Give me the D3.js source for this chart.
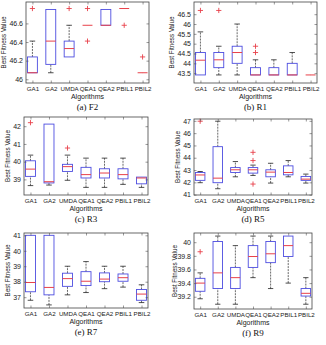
<!DOCTYPE html>
<html>
<head>
<meta charset="utf-8">
<script src="https://cdn.jsdelivr.net/npm/d3@7"></script>
<style>
body { margin: 0; background: #fff; }
svg { display: block; }
</style>
</head>
<body>
<svg id="chart" width="326" height="345"></svg>
<script>
var algorithms = ["GA1", "GA2", "UMDA", "QEA1", "QEA2", "PBIL1", "PBIL2"];

// one row per algorithm: [lower whisker, q1, median, q3, upper whisker]
var f2Stats = [
    [46.07, 46.07, 46.07, 46.24, 46.41],
    [46.07, 46.16, 46.41, 46.75, 46.75],
    [46.24, 46.24, 46.33, 46.41, 46.58],
    [46.58, 46.58, 46.58, 46.58, 46.58],
    [46.58, 46.58, 46.58, 46.75, 46.75],
    [46.76, 46.76, 46.76, 46.76, 46.76],
    [46.07, 46.07, 46.07, 46.07, 46.07]
];
var f2Outliers = [[46.76], [], [46.76], [46.76, 46.41], [], [46.58], [46.24]];
var f2Ticks = [46, 46.2, 46.4, 46.6];

var r1Stats = [
    [43.41, 43.41, 44.16, 44.55, 45.6],
    [43.41, 43.78, 44.18, 44.55, 44.87],
    [43.41, 44.0, 44.55, 44.87, 46.0],
    [43.41, 43.41, 43.41, 43.78, 44.18],
    [43.41, 43.41, 43.41, 43.78, 44.18],
    [43.41, 43.41, 43.41, 44.0, 44.55],
    [43.41, 43.41, 43.41, 43.41, 43.41]
];
var r1Outliers = [[46.69], [46.69], [], [44.55, 44.87], [], [], []];
var r1Ticks = [43.5, 44, 44.5, 45, 45.5, 46, 46.5];

var r3Stats = [
    [38.65, 39.17, 39.58, 40.05, 40.37],
    [38.68, 38.8, 38.87, 42.12, 42.12],
    [38.95, 39.45, 39.72, 39.85, 40.37],
    [38.55, 39.08, 39.27, 39.68, 40.2],
    [38.55, 39.08, 39.36, 39.6, 40.2],
    [38.72, 39.03, 39.27, 39.6, 40.2],
    [38.55, 38.75, 39.08, 39.13, 39.13]
];
var r3Outliers = [[42.2], [], [40.77], [], [], [], []];
var r3Ticks = [39, 40, 41, 42];

var r5Stats = [
    [41.97, 42.16, 42.6, 42.8, 42.88],
    [41.48, 41.97, 42.34, 44.9, 46.97],
    [42.45, 42.8, 43.02, 43.2, 43.69],
    [42.56, 42.75, 43.02, 43.2, 43.4],
    [41.94, 42.45, 42.83, 43.02, 43.55],
    [42.45, 42.61, 42.8, 43.34, 43.77],
    [41.94, 42.16, 42.26, 42.48, 42.67]
];
var r5Outliers = [[46.97], [], [], [43.77, 44.44, 41.86], [], [], []];
var r5Ticks = [41, 42, 43, 44, 45, 46, 47];

var r7Stats = [
    [36.8, 37.35, 37.95, 41.0, 41.0],
    [36.5, 37.15, 37.63, 41.0, 41.0],
    [37.15, 37.7, 38.2, 38.55, 39.0],
    [37.3, 37.75, 38.03, 38.65, 39.3],
    [37.55, 38.0, 38.17, 38.57, 39.0],
    [37.65, 38.03, 38.26, 38.5, 39.0],
    [36.65, 36.8, 37.2, 37.5, 37.8]
];
var r7Outliers = [[], [], [], [], [], [], []];
var r7Ticks = [37, 38, 39, 40, 41];

var r9Stats = [
    [39.17, 39.28, 39.40, 39.47, 39.55],
    [39.09, 39.32, 39.55, 40.01, 40.09],
    [39.09, 39.32, 39.48, 39.63, 39.95],
    [39.48, 39.63, 39.79, 39.95, 40.09],
    [39.32, 39.70, 39.83, 40.01, 40.09],
    [39.40, 39.79, 39.95, 40.09, 40.09],
    [39.09, 39.21, 39.25, 39.32, 39.48]
];
var r9Outliers = [[39.86], [], [], [], [], [], []];
var r9Ticks = [39.2, 39.4, 39.6, 39.8, 40];

var panels = [
    {caption: "(a) F2", stats: f2Stats, outliers: f2Outliers, ticks: f2Ticks, domain: [45.96, 46.83], left: 26, right: 149, top: 2, bottom: 83, labelX: 6},
    {caption: "(b) R1", stats: r1Stats, outliers: r1Outliers, ticks: r1Ticks, domain: [43.0, 47.12], left: 194, right: 317, top: 2, bottom: 83, labelX: 173.5},
    {caption: "(c) R3", stats: r3Stats, outliers: r3Outliers, ticks: r3Ticks, domain: [38.12, 42.52], left: 24, right: 148, top: 117, bottom: 195, labelX: 9.5},
    {caption: "(d) R5", stats: r5Stats, outliers: r5Outliers, ticks: r5Ticks, domain: [40.97, 47.15], left: 194, right: 312, top: 119, bottom: 195, labelX: 179.5},
    {caption: "(e) R7", stats: r7Stats, outliers: r7Outliers, ticks: r7Ticks, domain: [36.3, 41.15], left: 24, right: 148, top: 233, bottom: 308, labelX: 10},
    {caption: "(f) R9", stats: r9Stats, outliers: r9Outliers, ticks: r9Ticks, domain: [39.02, 40.135], left: 194, right: 312, top: 233, bottom: 309, labelX: 176.5}
];

var svg = d3.select("#chart");
var BLUE = "#4d4de0", RED = "#e8404a", WHISK = "#444";
var SANS = "Liberation Sans, Arial, sans-serif";

function drawPanel(p) {
    var x = d3.scaleLinear().domain([0.65, 7.35]).range([p.left, p.right]);
    var y = d3.scaleLinear().domain(p.domain).range([p.bottom, p.top]);
    var g = svg.append("g");
    var hw = x(0.27) - x(0);
    var cw = x(0.15) - x(0);

    var box = g.selectAll("g.box").data(p.stats).enter().append("g").attr("class", "box");

    // whiskers, dashed like matlab
    box.append("line")
        .attr("x1", function(d, i) { return x(i + 1); })
        .attr("x2", function(d, i) { return x(i + 1); })
        .attr("y1", function(d) { return y(d[3]); })
        .attr("y2", function(d) { return y(d[4]); })
        .attr("stroke", WHISK).attr("stroke-width", 0.8).attr("stroke-dasharray", "2,1");
    box.append("line")
        .attr("x1", function(d, i) { return x(i + 1); })
        .attr("x2", function(d, i) { return x(i + 1); })
        .attr("y1", function(d) { return y(d[0]); })
        .attr("y2", function(d) { return y(d[1]); })
        .attr("stroke", WHISK).attr("stroke-width", 0.8).attr("stroke-dasharray", "2,1");
    [0, 4].forEach(function(k) {
        box.filter(function(d) { return k === 0 ? d[0] < d[1] : d[4] > d[3]; })
            .append("line")
            .attr("x1", function(d) { return x(p.stats.indexOf(d) + 1) - cw; })
            .attr("x2", function(d) { return x(p.stats.indexOf(d) + 1) + cw; })
            .attr("y1", function(d) { return y(d[k]); })
            .attr("y2", function(d) { return y(d[k]); })
            .attr("stroke", "#222").attr("stroke-width", 0.8);
    });

    box.filter(function(d) { return d[3] > d[1]; })
        .append("rect")
        .attr("x", function(d) { return x(p.stats.indexOf(d) + 1) - hw; })
        .attr("width", 2 * hw)
        .attr("y", function(d) { return y(d[3]); })
        .attr("height", function(d) { return y(d[1]) - y(d[3]); })
        .attr("fill", "none").attr("stroke", BLUE).attr("stroke-width", 0.9);

    box.append("line")
        .attr("x1", function(d, i) { return x(i + 1) - hw; })
        .attr("x2", function(d, i) { return x(i + 1) + hw; })
        .attr("y1", function(d) { return y(d[2]); })
        .attr("y2", function(d) { return y(d[2]); })
        .attr("stroke", RED).attr("stroke-width", 1);

    // outliers as red plus signs
    var pts = [];
    p.outliers.forEach(function(list, i) {
        list.forEach(function(v) { pts.push([i + 1, v]); });
    });
    g.selectAll("path.out").data(pts).enter().append("path")
        .attr("class", "out")
        .attr("d", function(d) {
            var cx = x(d[0]), cy = y(d[1]), s = 2.6;
            return "M" + (cx - s) + "," + cy + "H" + (cx + s) + "M" + cx + "," + (cy - s) + "V" + (cy + s);
        })
        .attr("stroke", RED).attr("stroke-width", 0.9).attr("fill", "none");

    // axes with inward ticks on all four sides
    g.append("g").attr("class", "yax").attr("transform", "translate(" + p.left + ",0)")
        .call(d3.axisLeft(y).tickValues(p.ticks).tickFormat(function(t) { return String(t); })
            .tickSizeInner(-2.5).tickSizeOuter(0).tickPadding(3));
    g.append("g").attr("transform", "translate(" + p.right + ",0)")
        .call(d3.axisRight(y).tickValues(p.ticks).tickFormat("").tickSizeInner(-2.5).tickSizeOuter(0));
    g.append("g").attr("class", "xax").attr("transform", "translate(0," + p.bottom + ")")
        .call(d3.axisBottom(x).tickValues([1, 2, 3, 4, 5, 6, 7])
            .tickFormat(function(i) { return algorithms[i - 1]; })
            .tickSizeInner(-2.5).tickSizeOuter(0).tickPadding(4));
    g.append("g").attr("transform", "translate(0," + p.top + ")")
        .call(d3.axisTop(x).tickValues([1, 2, 3, 4, 5, 6, 7]).tickFormat("").tickSizeInner(-2.5).tickSizeOuter(0));
    g.selectAll(".domain").remove();
    g.selectAll(".tick line").attr("stroke", "#555").attr("stroke-width", 0.6);
    g.selectAll(".yax .tick text").attr("font-family", SANS).attr("font-size", 7).attr("fill", "#222");
    g.selectAll(".xax .tick text").attr("font-family", SANS).attr("font-size", 6.2).attr("fill", "#222");

    g.append("rect").attr("x", p.left).attr("y", p.top)
        .attr("width", p.right - p.left).attr("height", p.bottom - p.top)
        .attr("fill", "none").attr("stroke", "#444").attr("stroke-width", 0.8);

    var cx = (p.left + p.right) / 2;
    g.append("text").attr("x", cx).attr("y", p.bottom + 16)
        .attr("text-anchor", "middle").attr("font-family", SANS)
        .attr("font-size", 7).attr("fill", "#222").text("Algorithms");
    g.append("text").attr("x", cx).attr("y", p.bottom + 27)
        .attr("text-anchor", "middle").attr("font-family", "Liberation Serif, Times New Roman, serif")
        .attr("font-size", 9).attr("fill", "#111").text(p.caption);
    g.append("text")
        .attr("transform", "translate(" + p.labelX + "," + ((p.top + p.bottom) / 2) + ") rotate(-90)")
        .attr("text-anchor", "middle").attr("font-family", SANS)
        .attr("font-size", 6.3).attr("fill", "#222").text("Best Fitness Value");
}

panels.forEach(drawPanel);
</script>
</body>
</html>
